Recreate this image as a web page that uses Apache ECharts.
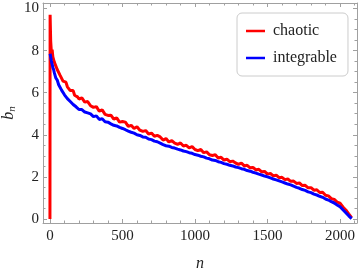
<!DOCTYPE html>
<html>
<head>
<meta charset="utf-8">
<script src="https://cdn.jsdelivr.net/npm/echarts@6/dist/echarts.min.js"></script>
<style>
html,body{margin:0;padding:0;background:#fff;}
#c{width:360px;height:270px;}
</style>
</head>
<body>
<div id="c"></div>
<script>
const nVals = [0,1,5,10,15,20,25,30,40,50,60,70,80,90,100,110,120,130,140,150,160,170,180,190,200,
220,240,260,280,300,320,340,360,380,400,420,440,460,480,500,520,540,560,580,600,620,640,660,680,700,
720,740,760,780,800,820,840,860,880,900,920,940,960,980,1000,1020,1040,1060,1080,1100,1120,1140,1160,1180,1200,
1220,1240,1260,1280,1300,1320,1340,1360,1380,1400,1420,1440,1460,1480,1500,1520,1540,1560,1580,1600,
1620,1640,1660,1680,1700,1720,1740,1760,1780,1800,1820,1840,1860,1880,1900,1920,1940,1960,1980,2000,
2020,2040,2060,2080];

const chaotic = [0,9.7,8.45,7.9,8.05,7.7,7.75,7.45,7.45,7.1,7.15,6.82,6.9,6.55,6.62,6.5,6.28,6.35,6.1,6.05,6.1,5.88,5.97,5.8,5.7,
5.75,5.55,5.58,5.38,5.3,5.34,5.12,5.18,4.97,4.92,4.93,4.74,4.8,4.6,4.63,4.6,4.4,4.45,4.3,4.38,4.22,4.16,4.2,4.04,4.08,
3.93,3.97,3.9,3.75,3.82,3.66,3.72,3.6,3.55,3.61,3.47,3.5,3.38,3.44,3.3,3.25,3.3,3.15,3.19,3.05,3.02,3.05,2.9,2.93,2.8,
2.84,2.72,2.75,2.66,2.6,2.65,2.52,2.55,2.43,2.45,2.33,2.36,2.24,2.26,2.13,2.16,2.05,2.08,1.96,1.98,
1.87,1.9,1.79,1.8,1.69,1.71,1.59,1.6,1.48,1.49,1.37,1.39,1.26,1.27,1.13,1.1,0.97,0.93,0.8,0.75,
0.57,0.43,0.24,0.06];

const integrable = [null,7.85,7.7,7.5,7.35,7.2,7.1,6.95,6.7,6.6,6.38,6.33,6.12,6.08,5.9,5.9,5.72,5.74,5.58,5.6,5.44,5.46,5.33,5.34,5.2,
5.2,5.08,5.04,4.99,4.86,4.9,4.73,4.76,4.62,4.6,4.52,4.45,4.42,4.35,4.3,4.24,4.17,4.12,4.08,4.0,3.97,3.9,3.88,3.8,3.77,
3.7,3.67,3.6,3.53,3.48,3.46,3.4,3.37,3.32,3.28,3.23,3.2,3.15,3.12,3.06,3.03,2.98,2.95,2.89,2.86,2.8,2.78,2.72,2.69,2.63,
2.6,2.55,2.52,2.47,2.44,2.39,2.36,2.3,2.27,2.22,2.18,2.13,2.09,2.04,2.0,1.95,1.9,1.86,1.81,1.76,
1.71,1.66,1.62,1.56,1.5,1.46,1.4,1.36,1.29,1.25,1.18,1.14,1.08,1.03,0.95,0.9,0.82,0.76,0.67,0.58,
0.44,0.3,0.15,0.02];

const xMajorTicks = [0,500,1000,1500,2000];
const xMinorTicks = [100,200,300,400,600,700,800,900,1100,1200,1300,1400,1600,1700,1800,1900,2100];
const yMajorTicks = [0,2,4,6,8,10];
const yMinorTicks = [0.5,1,1.5,2.5,3,3.5,4.5,5,5.5,6.5,7,7.5,8.5,9,9.5];

const FONT = 'Liberation Serif';
const FRAME = '#a0a0a0';
const XMIN = -48, XMAX = 2117, YMIN = -0.19, YMAX = 10.26;

function xAx(pos, ticks, len, showLabels, showLine, extra) {
  return Object.assign({
    type: 'value', position: pos, min: XMIN, max: XMAX, offset: 0,
    axisLine: {show: showLine, onZero: false, lineStyle: {color: FRAME, width: 1}},
    axisTick: {show: true, inside: true, length: len, customValues: ticks, lineStyle: {color: FRAME, width: 1}},
    axisLabel: showLabels ? {show: true, customValues: ticks, fontFamily: FONT, fontSize: 15, color: '#222', margin: 6,
      formatter: v => String(v)} : {show: false},
    splitLine: {show: false}
  }, extra || {});
}
function yAx(pos, ticks, len, showLabels, showLine, extra) {
  return Object.assign({
    type: 'value', position: pos, min: YMIN, max: YMAX, offset: 0,
    axisLine: {show: showLine, onZero: false, lineStyle: {color: FRAME, width: 1}},
    axisTick: {show: true, inside: true, length: len, customValues: ticks, lineStyle: {color: FRAME, width: 1}},
    axisLabel: showLabels ? {show: true, customValues: ticks, fontFamily: FONT, fontSize: 15, color: '#222', margin: 4,
      formatter: v => String(v)} : {show: false},
    splitLine: {show: false}
  }, extra || {});
}

const chart = echarts.init(document.getElementById('c'), null, {renderer: 'canvas'});
chart.setOption({
  animation: false,
  backgroundColor: '#fff',
  grid: {left: 43, right: 3, top: 3, bottom: 47, containLabel: false, outerBoundsMode: 'none'},
  legend: {
    orient: 'vertical', left: 237, top: 13,
    padding: [9, 11, 9, 9], itemGap: 9,
    backgroundColor: '#fff', borderColor: '#cccccc', borderWidth: 1, borderRadius: 5,
    icon: 'rect', itemWidth: 19, itemHeight: 2.5,
    textStyle: {fontFamily: FONT, fontSize: 16, color: '#222', lineHeight: 18, padding: [0, 0, 0, 3]},
    data: ['chaotic', 'integrable']
  },
  xAxis: [
    xAx('bottom', xMajorTicks, 4, true, true, {
      name: 'n', nameLocation: 'middle', nameGap: 33,
      nameTextStyle: {fontFamily: FONT, fontSize: 16, fontStyle: 'italic', color: '#222'}
    }),
    xAx('bottom', xMinorTicks, 2.5, false, false),
    xAx('top', xMajorTicks, 4, false, true),
    xAx('top', xMinorTicks, 2.5, false, false)
  ],
  yAxis: [
    yAx('left', yMajorTicks, 4, true, true, {
      name: '{b|b}{s|n}', nameLocation: 'middle', nameGap: 25, nameRotate: 90, nameMoveOverlap: false,
      nameTextStyle: {
        fontFamily: FONT, fontSize: 16, fontStyle: 'italic', color: '#222',
        rich: {
          b: {fontFamily: FONT, fontSize: 16, fontStyle: 'italic', color: '#222'},
          s: {fontFamily: FONT, fontSize: 11, fontStyle: 'italic', color: '#222', padding: [7, 0, 0, 0]}
        }
      }
    }),
    yAx('left', yMinorTicks, 2.5, false, false),
    yAx('right', yMajorTicks, 4, false, true),
    yAx('right', yMinorTicks, 2.5, false, false)
  ],
  series: [
    {
      name: 'chaotic', type: 'line', xAxisIndex: 0, yAxisIndex: 0,
      data: nVals.map((n, i) => [n, chaotic[i]]),
      showSymbol: false, symbol: 'none', connectNulls: false,
      lineStyle: {color: '#ff0000', width: 3}, itemStyle: {color: '#ff0000'}, z: 2
    },
    {
      name: 'integrable', type: 'line', xAxisIndex: 0, yAxisIndex: 0,
      data: nVals.map((n, i) => [n, integrable[i]]),
      showSymbol: false, symbol: 'none', connectNulls: false,
      lineStyle: {color: '#0000ff', width: 3}, itemStyle: {color: '#0000ff'}, z: 3
    }
  ]
});
</script>
</body>
</html>
